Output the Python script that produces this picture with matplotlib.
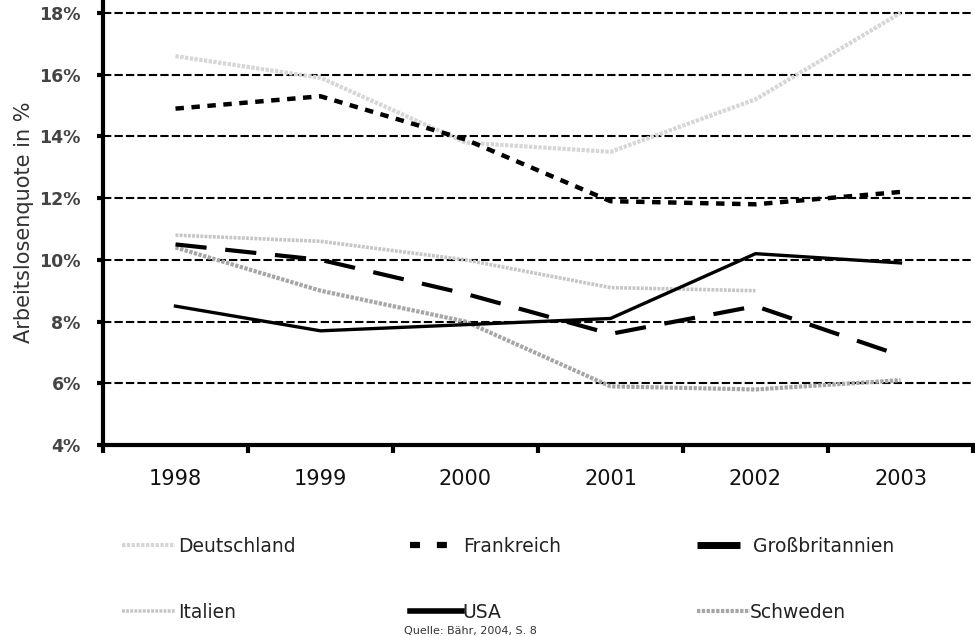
import matplotlib
matplotlib.use('Agg')
import matplotlib.pyplot as plt
import numpy as np
from matplotlib.ticker import FixedLocator, FuncFormatter
from matplotlib.lines import Line2D

years = ['1998', '1999', '2000', '2001', '2002', '2003']
deutschland = [16.6, 15.9, 13.8, 13.5, 15.2, 18.0]
frankreich = [14.9, 15.3, 13.9, 11.9, 11.8, 12.2]
grossbritannien = [10.5, 10.0, 8.9, 7.6, 8.5, 6.9]
italien = [10.8, 10.6, 10.0, 9.1, 9.0, np.nan]
usa = [8.5, 7.7, 7.9, 8.1, 10.2, 9.9]
schweden = [10.4, 9.0, 8.0, 5.9, 5.8, 6.1]
yticks = [4, 6, 8, 10, 12, 14, 16, 18]

W, H = 975, 636
fig = plt.figure(figsize=(W / 100, H / 100), dpi=100)
ax = fig.add_axes([103 / W, 1 - 445 / H, 870 / W, 445 / H])

grey_ls = (0, (0.8, 0.35))
x = np.arange(len(years))
l_de, = ax.plot(x, deutschland, color='#d6d6d6', lw=3.0, linestyle=grey_ls, label='Deutschland', zorder=3)
l_it, = ax.plot(x, italien, color='#c6c6c6', lw=2.6, linestyle=grey_ls, label='Italien', zorder=3)
l_se, = ax.plot(x, schweden, color='#a6a6a6', lw=3.0, linestyle=grey_ls, label='Schweden', zorder=3)
l_fr, = ax.plot(x, frankreich, color='black', lw=3.2, linestyle=(0, (1.9, 1.7)), label='Frankreich', zorder=4)
l_gb, = ax.plot(x, grossbritannien, color='black', lw=3.0, linestyle=(0, (7.5, 4.5)), label='Großbritannien', zorder=4)
l_us, = ax.plot(x, usa, color='black', lw=2.4, linestyle='-', label='USA', zorder=4)

ax.set_xlim(-0.5, len(years) - 0.5)
ax.set_ylim(4, 18.42)

ax.yaxis.set_major_locator(FixedLocator(yticks))
ax.yaxis.set_major_formatter(FuncFormatter(lambda v, p: f'{int(v)}%'))
ax.set_xticks(x)
ax.set_xticklabels(years)
ax.set_xticks(np.arange(-0.5, len(years)), minor=True)

for s in ['top', 'right']:
    ax.spines[s].set_visible(False)
for s in ['left', 'bottom']:
    ax.spines[s].set_linewidth(3.0)
    ax.spines[s].set_color('black')

ax.tick_params(axis='x', which='major', length=0, pad=17, labelsize=15, labelcolor='#111111')
ax.tick_params(axis='x', which='minor', length=6, width=3, direction='out', color='black')
ax.tick_params(axis='y', which='major', length=4, width=3, direction='out', pad=12,
               labelsize=12.5, labelcolor='#444444')
for t in ax.get_yticklabels():
    t.set_fontweight('bold')

ax.yaxis.grid(True, color='black', lw=1.5, linestyle=(0, (4, 1.5)))
ax.set_axisbelow(True)

ax.set_ylabel('Arbeitslosenquote in %', fontsize=15, color='#333333', labelpad=4)

# legend: one small legend per entry, so each one sits where the reference puts it
def add_entry(line, proxy, xpx, ypx, hl_px, pad_px):
    fs = 13.5
    fpx = fs * 100 / 72
    leg = fig.legend(handles=[proxy], labels=[line.get_label()], loc='center left',
                     bbox_to_anchor=(xpx / W, 1 - ypx / H), frameon=False, fontsize=fs,
                     handlelength=hl_px / fpx, handletextpad=pad_px / fpx,
                     borderpad=0, borderaxespad=0)
    for t in leg.get_texts():
        t.set_color('#222222')

row1, row2 = 546, 612
add_entry(l_de, Line2D([], [], color='#d6d6d6', lw=3.0, linestyle=grey_ls), 122, row1, 53, 3)
add_entry(l_it, Line2D([], [], color='#c6c6c6', lw=2.6, linestyle=grey_ls), 122, row2, 53, 3)
add_entry(l_fr, Line2D([], [], color='black', lw=4.5, linestyle=(0, (1.6, 2.7))), 410, row1, 45, 8)
add_entry(l_us, Line2D([], [], color='black', lw=4.0, linestyle='-'), 410, row2, 52, 0)
add_entry(l_gb, Line2D([], [], color='black', lw=5.0, linestyle='-', solid_capstyle='butt'), 697, row1, 43, 13)
add_entry(l_se, Line2D([], [], color='#a6a6a6', lw=3.0, linestyle=grey_ls), 697, row2, 53, 0)

fig.text(470 / W, 0, 'Quelle: Bähr, 2004, S. 8', ha='center', va='bottom', fontsize=8, color='#333333')

fig.savefig('out.png', dpi=100)
